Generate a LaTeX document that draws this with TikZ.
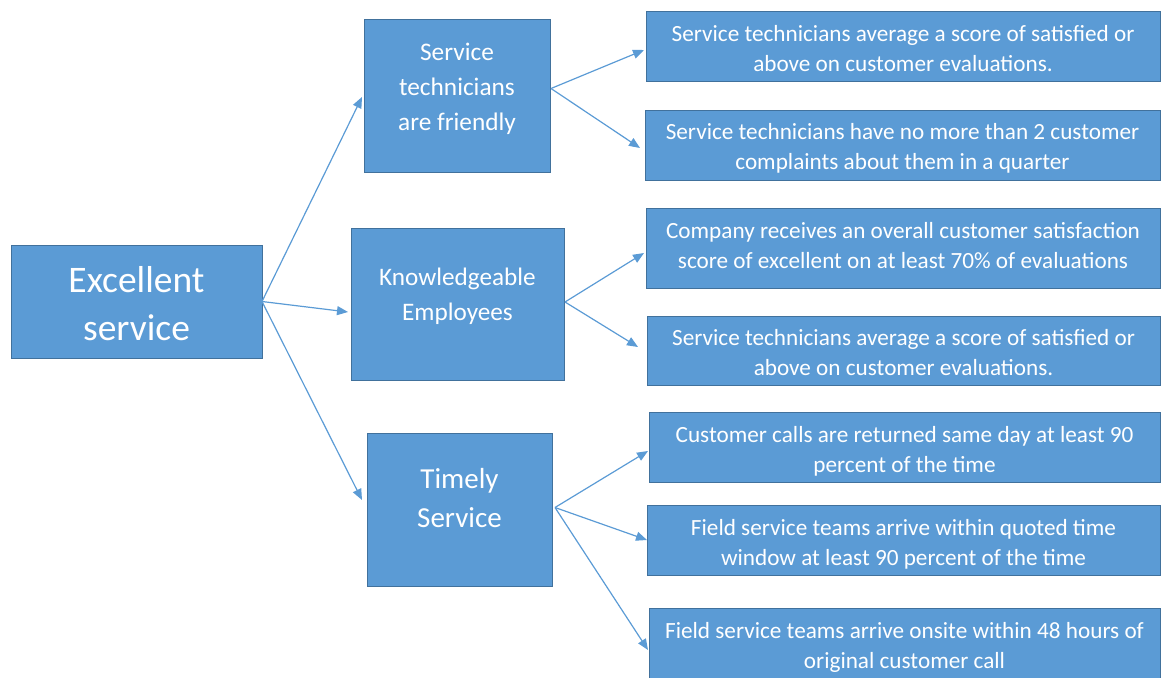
\documentclass[tikz,border=0pt]{standalone}
\usepackage{fontspec}
\setmainfont{Carlito}
\usetikzlibrary{arrows.meta,calc}
\definecolor{boxfill}{HTML}{5B9BD5}
\definecolor{boxline}{HTML}{41719C}
\definecolor{arrcol}{HTML}{5B9BD5}
\begin{document}
\begin{tikzpicture}[x=1pt,y=-1pt,
  box/.style={draw=boxline,line width=0.9pt,fill=boxfill,inner sep=0pt,outer sep=0pt},
  txt/.style={text=white,align=center,inner sep=0pt},
  rtxt/.style={txt,font=\fontsize{23.2}{30}\selectfont},
  arr/.style={draw=arrcol,line width=1.2pt,-{Triangle[length=11pt,width=9pt]}}]
\useasboundingbox (0,0) rectangle (1161,677);
% boxes: center (x,y), width, height
\node[box,minimum width=251,minimum height=113] (ex) at (136.5,301.5) {};
\node[txt,font=\fontsize{37.5}{48}\selectfont] (ext) at (136.5,304) {Excellent\\service};
\node[box,minimum width=186,minimum height=153] (fr) at (457,95.5) {};
\node[txt,font=\fontsize{25.3}{35}\selectfont] (frt) at (457,89) {Service\\technicians\\are friendly};
\node[box,minimum width=213,minimum height=152] (kn) at (457.5,304) {};
\node[txt,font=\fontsize{25.2}{35}\selectfont] (knt) at (457.5,296) {Knowledgeable\\Employees};
\node[box,minimum width=185,minimum height=153] (tm) at (459.5,509.5) {};
\node[txt,font=\fontsize{29}{39}\selectfont] (tmt) at (459.5,498) {Timely\\Service};
\node[box,minimum width=514,minimum height=70] (r1) at (903,46) {};
\node[rtxt] (r1t) at (903,49) {Service technicians average a score of satisfied or\\above on customer evaluations.};
\node[box,minimum width=515,minimum height=70] (r2) at (902.5,145) {};
\node[rtxt] (r2t) at (902.5,148.5) {Service technicians have no more than 2 customer\\complaints about them in a quarter};
\node[box,minimum width=514,minimum height=80] (r3) at (903,248) {};
\node[rtxt] (r3t) at (903,246) {Company receives an overall customer satisfaction\\score of excellent on at least 70\% of evaluations};
\node[box,minimum width=513,minimum height=69] (r4) at (903.5,350.5) {};
\node[rtxt] (r4t) at (903.5,353) {Service technicians average a score of satisfied or\\above on customer evaluations.};
\node[box,minimum width=511,minimum height=70] (r5) at (904.5,447) {};
\node[rtxt] (r5t) at (904.5,451) {Customer calls are returned same day at least 90\\percent of the time};
\node[box,minimum width=513,minimum height=70] (r6) at (903.5,540) {};
\node[rtxt] (r6t) at (903.5,544) {Field service teams arrive within quoted time\\window at least 90 percent of the time};
\node[box,minimum width=511,minimum height=70] (r7) at (904.5,643) {};
\node[rtxt] (r7t) at (904.5,647) {Field service teams arrive onsite within 48 hours of\\original customer call};
% connectors
\draw[arr] (ex.east) -- ($(fr.west)+(-2,1.5)$);
\draw[arr] (ex.east) -- ($(kn.west)+(-3,8)$);
\draw[arr] (ex.east) -- ($(tm.west)+(-5,-9.5)$);
\draw[arr] ($(fr.east)+(1,-7)$) -- ($(r1.west)+(-2,4)$);
\draw[arr] ($(fr.east)+(1,-7)$) -- ($(r2.west)+(-5,3)$);
\draw[arr] ($(kn.east)+(1,-2)$) -- ($(r3.west)+(-2,5)$);
\draw[arr] ($(kn.east)+(1,-2)$) -- ($(r4.west)+(-9,-3.5)$);
\draw[arr] ($(tm.east)+(3,-2)$) -- ($(r5.west)+(-1,4)$);
\draw[arr] ($(tm.east)+(3,-2)$) -- ($(r6.west)+(0,0)$);
\draw[arr] ($(tm.east)+(3,-2)$) -- ($(r7.west)+(-1,7)$);
\end{tikzpicture}
\end{document}
